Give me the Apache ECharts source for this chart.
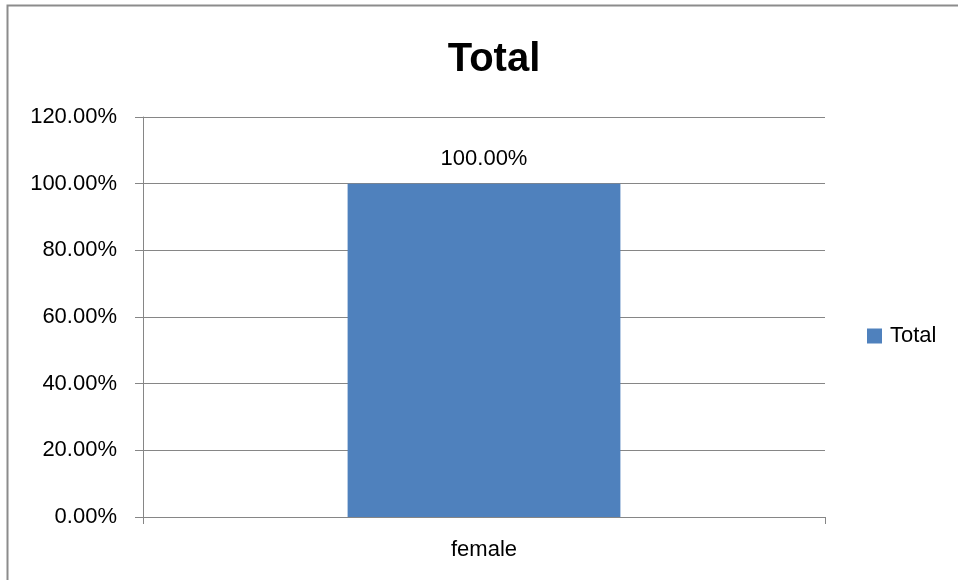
<!DOCTYPE html>
<html>
<head>
<meta charset="utf-8">
<script src="https://cdn.jsdelivr.net/npm/echarts@6/dist/echarts.min.js"></script>
<style>
  html, body { margin: 0; padding: 0; background: #fff; }
  #chart { width: 958px; height: 580px; }
</style>
</head>
<body>
<div id="chart"></div>
<script>
// Chart data
const categories = ['female'];
const seriesName = 'Total';
const totalValues = [100];
const yTicks = { min: 0, max: 120, step: 20 };

const FONT = '"Liberation Sans", Arial, sans-serif';
const GRAY = '#868686';

const chart = echarts.init(document.getElementById('chart'), null, { renderer: 'canvas' });

chart.setOption({
  animation: false,
  backgroundColor: '#ffffff',
  title: {
    text: 'Total',
    left: 489,
    textAlign: 'center',
    top: 35,
    textStyle: { fontFamily: FONT, fontWeight: 'bold', fontSize: 40, color: '#000' }
  },
  legend: {
    data: [seriesName],
    left: 867,
    top: 325,
    padding: 0,
    orient: 'vertical',
    icon: 'rect',
    itemWidth: 15,
    itemHeight: 15,
    itemGap: 8,
    textStyle: { fontFamily: FONT, fontSize: 22, color: '#000', padding: [0, 0, 0, 3] }
  },
  grid: { left: 143, top: 117, width: 682, height: 400, containLabel: false },
  xAxis: {
    type: 'category',
    data: categories,
    axisLine: { lineStyle: { color: GRAY, width: 1 } },
    axisTick: { show: true, length: 7, lineStyle: { color: GRAY } },
    axisLabel: { fontFamily: FONT, fontSize: 22, color: '#000', margin: 22 }
  },
  yAxis: {
    type: 'value',
    min: yTicks.min,
    max: yTicks.max,
    interval: yTicks.step,
    axisLine: { show: true, lineStyle: { color: GRAY, width: 1 } },
    axisTick: { show: true, length: 8, lineStyle: { color: GRAY } },
    splitLine: { lineStyle: { color: GRAY, width: 1 } },
    axisLabel: {
      fontFamily: FONT, fontSize: 22, color: '#000', margin: 26,
      padding: [3, 0, 0, 0],
      formatter: v => v.toFixed(2) + '%'
    }
  },
  series: [{
    name: seriesName,
    type: 'bar',
    data: totalValues,
    barWidth: '40%',
    itemStyle: { color: '#4F81BD' },
    label: {
      show: true,
      position: 'top',
      distance: 14,
      fontFamily: FONT,
      fontSize: 22,
      color: '#000',
      formatter: p => p.value.toFixed(2) + '%'
    }
  }],
  graphic: [{
    type: 'rect',
    shape: { x: 7.5, y: 5.5, width: 1000, height: 1000 },
    style: { fill: 'none', stroke: '#8c8c8c', lineWidth: 2 },
    silent: true,
    z: 100
  }]
});
</script>
</body>
</html>
